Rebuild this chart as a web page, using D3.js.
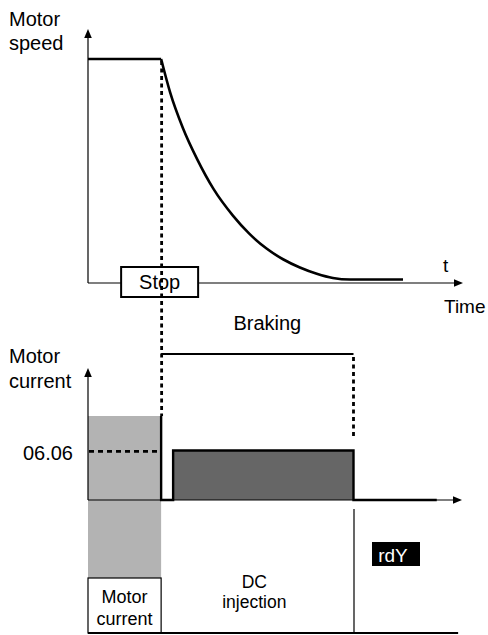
<!DOCTYPE html>
<html>
<head>
<meta charset="utf-8">
<script src="https://cdn.jsdelivr.net/npm/d3@7"></script>
<style>
  html, body { margin: 0; padding: 0; background: #fff; }
  svg { display: block; font-family: "Liberation Sans", Arial, sans-serif; }
</style>
</head>
<body>
<svg id="chart" width="488" height="635"></svg>
<script>
// Time instants (arbitrary units, 0..100 across the time axis)
const stopTime = 19.5;        // stop command
const dcStartTime = 22.7;     // DC injection starts
const dcEndTime = 70.8;       // DC injection ends / braking released
const tableEnd = 98.7;        // end of the phase table

// Motor speed (% of running speed) during the stop
const speedHoldTimes = [0, 19.5];
const speedHoldValues = [100, 100];
const speedDecayTimes = [19.5, 21.9, 25.3, 29.1, 33.5, 38.7, 43, 47.7, 52, 56.5, 61, 65.3, 69.9, 84];
const speedDecayValues = [100, 85, 69, 55, 41.5, 29.5, 21.5, 14.7, 10, 6.3, 3.5, 1.6, 0.9, 0.9];

// Motor current (% of running current) and DC injection level
const runCurrent = 100;
const dcLevel = 59;
const currentTimes = [19.5, 19.5, 22.7, 22.7, 70.8, 70.8, 93];
const currentValues = [100, 0, 0, 59, 59, 0, 0];

// Braking logic signal
const brakingTimes = [19.5, 19.5, 70.8, 70.8];
const brakingValues = [0, 1, 1, 0];

// Texts
const speedAxisLabel = ["Motor", "speed"];
const currentAxisLabel = ["Motor", "current"];
const dcLevelLabel = "06.06";
const phaseLabels = [["Motor", "current"], ["DC", "injection"]];
const readyLabel = "rdY";

const svg = d3.select("#chart");

const x = d3.scaleLinear().domain([0, 100]).range([88, 463]);
const ySpeed = d3.scaleLinear().domain([0, 100]).range([281.5, 59]);
const yCurrent = d3.scaleLinear().domain([0, 100]).range([500, 416]);
const yBraking = d3.scaleLinear().domain([0, 1]).range([437, 354]);

const speedAxisY = 283;
const currentAxisY = 500;
const tableTop = 578;
const tableBottom = 633;

function arrowHead(g, tipX, tipY, dir) {
  // filled triangle pointing up ("up") or right ("right")
  const L = 9, W = 3.8;
  let pts;
  if (dir === "up") pts = [[tipX, tipY], [tipX - W, tipY + L], [tipX + W, tipY + L]];
  else pts = [[tipX, tipY], [tipX - L, tipY - W], [tipX - L, tipY + W]];
  g.append("path").attr("d", d3.line()(pts) + "Z").attr("fill", "#000");
}

// ---------- Upper panel: motor speed ----------
const speedPanel = svg.append("g");

// axes
speedPanel.append("line").attr("x1", x(0)).attr("x2", x(100) - 6)
  .attr("y1", speedAxisY).attr("y2", speedAxisY)
  .attr("stroke", "#000").attr("stroke-width", 1.2);
speedPanel.append("line").attr("x1", x(0)).attr("x2", x(0))
  .attr("y1", speedAxisY).attr("y2", 36)
  .attr("stroke", "#000").attr("stroke-width", 1.2);
arrowHead(speedPanel, x(100), speedAxisY, "right");
arrowHead(speedPanel, x(0), 29, "up");

// speed trace
const speedHold = speedHoldTimes.map((t, i) => [x(t), ySpeed(speedHoldValues[i])]);
const speedDecay = speedDecayTimes.map((t, i) => [x(t), ySpeed(speedDecayValues[i])]);
speedPanel.append("path")
  .attr("d", d3.line()(speedHold))
  .attr("fill", "none").attr("stroke", "#000").attr("stroke-width", 2.6);
speedPanel.append("path")
  .attr("d", d3.line().curve(d3.curveMonotoneX)(speedDecay))
  .attr("fill", "none").attr("stroke", "#000").attr("stroke-width", 2.6);

// stop marker: dotted line down through both panels
svg.append("line")
  .attr("x1", x(stopTime) + 0.5).attr("x2", x(stopTime) + 0.5)
  .attr("y1", ySpeed(100) + 2).attr("y2", yCurrent(runCurrent))
  .attr("stroke", "#000").attr("stroke-width", 2.8)
  .attr("stroke-dasharray", "4,3.5");

// Stop box
const stopBox = speedPanel.append("g");
stopBox.append("rect")
  .attr("x", x(stopTime) - 40).attr("y", 267)
  .attr("width", 77).attr("height", 30)
  .attr("fill", "#fff").attr("stroke", "#000").attr("stroke-width", 2);
stopBox.append("text")
  .attr("x", x(stopTime) - 1.5).attr("y", 289)
  .attr("text-anchor", "middle").attr("font-size", 20).text("Stop");

// axis texts
speedPanel.append("text").attr("x", 9).attr("y", 26).attr("font-size", 20).text(speedAxisLabel[0]);
speedPanel.append("text").attr("x", 9).attr("y", 50).attr("font-size", 20).text(speedAxisLabel[1]);
speedPanel.append("text").attr("x", 443).attr("y", 272).attr("font-size", 19).text("t");
speedPanel.append("text").attr("x", 444).attr("y", 313).attr("font-size", 19).text("Time");

// ---------- Braking signal ----------
const brakingPts = brakingTimes.map((t, i) => [x(t), yBraking(brakingValues[i])]);
svg.append("path")
  .attr("d", d3.line()(brakingPts.slice(1, 3)))
  .attr("fill", "none").attr("stroke", "#000").attr("stroke-width", 2.2);
svg.append("line")
  .attr("x1", brakingPts[2][0]).attr("x2", brakingPts[3][0])
  .attr("y1", brakingPts[2][1] + 3).attr("y2", brakingPts[3][1])
  .attr("stroke", "#000").attr("stroke-width", 2.8)
  .attr("stroke-dasharray", "4,3.5");
svg.append("text")
  .attr("x", (x(stopTime) + x(dcEndTime)) / 2 + 10).attr("y", 330)
  .attr("text-anchor", "middle").attr("font-size", 20).text("Braking");

// ---------- Lower panel: motor current ----------
const currentPanel = svg.append("g");

// running-current band (extends down to the phase table)
currentPanel.append("rect")
  .attr("x", x(0)).attr("y", yCurrent(runCurrent))
  .attr("width", x(stopTime) - x(0)).attr("height", tableTop - yCurrent(runCurrent))
  .attr("fill", "#b3b3b3");

// DC injection block
currentPanel.append("rect")
  .attr("x", x(dcStartTime)).attr("y", yCurrent(dcLevel))
  .attr("width", x(dcEndTime) - x(dcStartTime)).attr("height", yCurrent(0) - yCurrent(dcLevel))
  .attr("fill", "#666666");

// axes
currentPanel.append("line").attr("x1", x(0)).attr("x2", x(100) - 7)
  .attr("y1", currentAxisY).attr("y2", currentAxisY)
  .attr("stroke", "#000").attr("stroke-width", 1.2);
currentPanel.append("line").attr("x1", x(0)).attr("x2", x(0))
  .attr("y1", currentAxisY).attr("y2", 375)
  .attr("stroke", "#000").attr("stroke-width", 1.2);
arrowHead(currentPanel, x(100) - 1, currentAxisY, "right");
arrowHead(currentPanel, x(0), 368, "up");

// DC level reference
currentPanel.append("line")
  .attr("x1", x(0) + 1).attr("x2", x(stopTime))
  .attr("y1", yCurrent(dcLevel) + 1).attr("y2", yCurrent(dcLevel) + 1)
  .attr("stroke", "#000").attr("stroke-width", 2.8)
  .attr("stroke-dasharray", "5,4");
currentPanel.append("text")
  .attr("x", 73).attr("y", 460).attr("text-anchor", "end")
  .attr("font-size", 20).text(dcLevelLabel);

// current trace
const currentPts = currentTimes.map((t, i) => [x(t), yCurrent(currentValues[i])]);
currentPanel.append("path")
  .attr("d", d3.line()(currentPts))
  .attr("fill", "none").attr("stroke", "#000").attr("stroke-width", 2.4)
  .attr("stroke-linejoin", "miter");

currentPanel.append("text").attr("x", 9).attr("y", 363).attr("font-size", 20).text(currentAxisLabel[0]);
currentPanel.append("text").attr("x", 9).attr("y", 388).attr("font-size", 20).text(currentAxisLabel[1]);

// ---------- Phase table ----------
const table = svg.append("g").attr("stroke", "#000");
table.append("rect")
  .attr("x", x(0)).attr("y", tableTop)
  .attr("width", x(stopTime) - x(0)).attr("height", tableBottom - tableTop)
  .attr("fill", "#fff").attr("stroke-width", 1.2);
table.append("line")
  .attr("x1", x(dcEndTime) + 0.5).attr("x2", x(dcEndTime) + 0.5)
  .attr("y1", 509).attr("y2", tableBottom)
  .attr("stroke-width", 1.2);
table.append("line")
  .attr("x1", x(0)).attr("x2", x(tableEnd))
  .attr("y1", tableBottom).attr("y2", tableBottom)
  .attr("stroke-width", 2);

const midMotor = (x(0) + x(stopTime)) / 2;
svg.append("text").attr("x", midMotor).attr("y", 603)
  .attr("text-anchor", "middle").attr("font-size", 18).text(phaseLabels[0][0]);
svg.append("text").attr("x", midMotor).attr("y", 625)
  .attr("text-anchor", "middle").attr("font-size", 18).text(phaseLabels[0][1]);

const midDC = (x(stopTime) + x(dcEndTime)) / 2 - 3;
svg.append("text").attr("x", midDC).attr("y", 588)
  .attr("text-anchor", "middle").attr("font-size", 17.5).text(phaseLabels[1][0]);
svg.append("text").attr("x", midDC).attr("y", 608)
  .attr("text-anchor", "middle").attr("font-size", 17.5).text(phaseLabels[1][1]);

// ready state tag
svg.append("rect").attr("x", 372).attr("y", 542).attr("width", 48).attr("height", 24).attr("fill", "#000");
svg.append("text").attr("x", 393).attr("y", 562)
  .attr("text-anchor", "middle").attr("font-size", 19).attr("fill", "#fff").text(readyLabel);
</script>
</body>
</html>
